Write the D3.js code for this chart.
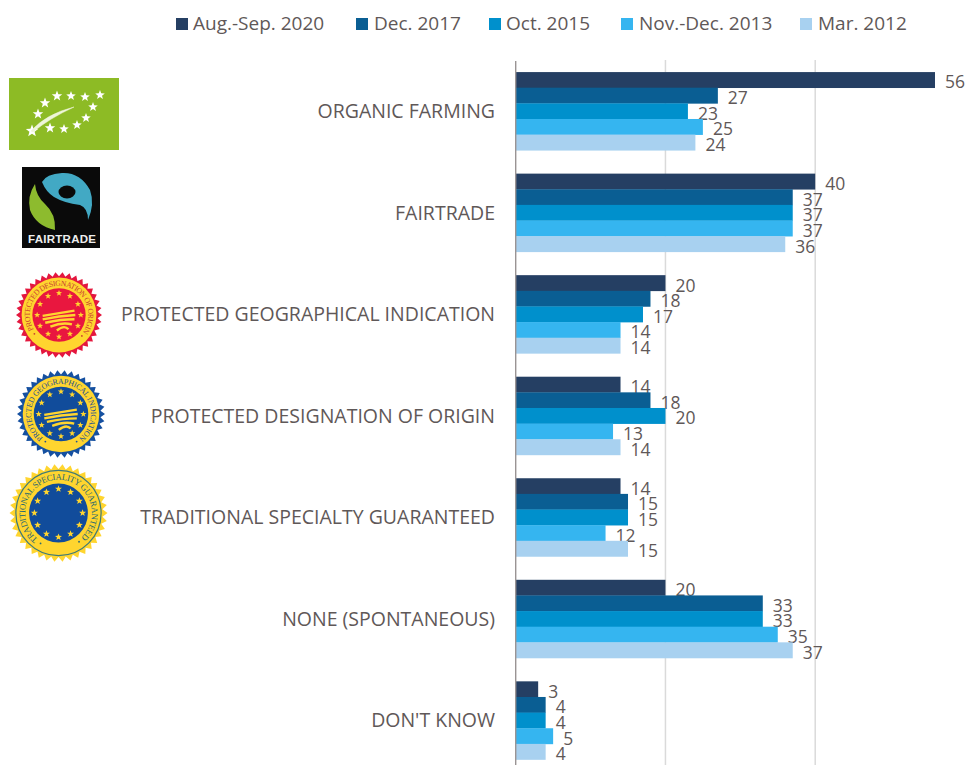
<!DOCTYPE html>
<html><head><meta charset="utf-8">
<script src="https://cdnjs.cloudflare.com/ajax/libs/d3/7.8.5/d3.min.js"></script>
<style>html,body{margin:0;padding:0;background:#fff}svg{display:block}svg{font-family:"Open Sans",sans-serif}</style>
</head><body><svg id="c" width="965" height="765"></svg>
<script>
const categories = ["ORGANIC FARMING","FAIRTRADE","PROTECTED GEOGRAPHICAL INDICATION","PROTECTED DESIGNATION OF ORIGIN","TRADITIONAL SPECIALTY GUARANTEED","NONE (SPONTANEOUS)","DON'T KNOW"];
const seriesNames = ["Aug.-Sep. 2020","Dec. 2017","Oct. 2015","Nov.-Dec. 2013","Mar. 2012"];
const aug2020 = [56,40,20,14,14,20,3];
const dec2017 = [27,37,18,18,15,33,4];
const oct2015 = [23,37,17,20,15,33,4];
const nov2013 = [25,37,14,13,12,35,5];
const mar2012 = [24,36,14,14,15,37,4];
const seriesValues = [aug2020,dec2017,oct2015,nov2013,mar2012];
const colors = ["#253F63","#0A5E93","#0090CC","#35B5F0","#A8D1F0"];
const xTicks = [0,20,40];
const textColor = "#5F5858";

const svg = d3.select("#c");
const x = d3.scaleLinear().domain([0,56]).range([515.7,935]);
const y = d3.scaleBand().domain(categories).range([60.4,771.2]).paddingInner(0.23).paddingOuter(0.115);
const inner = d3.scaleBand().domain(seriesNames).range([0,y.bandwidth()]);

// grid + axis
svg.append("g").selectAll("line").data(xTicks.slice(1)).join("line")
  .attr("x1",d=>x(d)).attr("x2",d=>x(d)).attr("y1",60).attr("y2",765)
  .attr("stroke","#DADADA").attr("stroke-width",1.5);

// bars
const groups = svg.append("g").selectAll("g").data(seriesNames).join("g");
groups.each(function(s,si){
  const g = d3.select(this);
  g.selectAll("rect").data(seriesValues[si]).join("rect")
    .attr("x",x(0)).attr("y",(d,i)=>y(categories[i])+inner(s))
    .attr("width",d=>x(d)-x(0)).attr("height",inner.bandwidth()+0.3)
    .attr("fill",colors[si]);
});
svg.append("line").attr("x1",x(0)).attr("x2",x(0)).attr("y1",61).attr("y2",765)
  .attr("stroke","#9A9494").attr("stroke-width",1.4);
groups.each(function(s,si){
  d3.select(this).selectAll("text").data(seriesValues[si]).join("text")
    .attr("x",d=>x(d)+10).attr("y",(d,i)=>y(categories[i])+inner(s)+inner.bandwidth()/2+8.6)
    .attr("font-size",17.5).attr("fill",textColor).text(d=>d);
});

// category labels
svg.append("g").selectAll("text").data(categories).join("text")
  .attr("x",495).attr("y",d=>y(d)+y.bandwidth()/2+7)
  .attr("text-anchor","end").attr("font-size",19.5).attr("fill",textColor).text(d=>d);

// legend
const legendX = [176,356,489,621,800];
const lg = svg.append("g").selectAll("g").data(seriesNames).join("g")
  .attr("transform",(d,i)=>`translate(${legendX[i]},0)`);
lg.append("rect").attr("y",18).attr("width",12).attr("height",12).attr("fill",(d,i)=>colors[i]);
lg.append("text").attr("x",(d,i)=>[17,18,17,18,18][i]).attr("y",30).attr("font-size",19).attr("fill",textColor).text(d=>d);

// ---- logos ----
function starPath(cx,cy,r){
  let p="";
  for(let i=0;i<10;i++){
    const a=-Math.PI/2+i*Math.PI/5, q=i%2?r*0.42:r;
    p+=(i?"L":"M")+(cx+q*Math.cos(a)).toFixed(2)+" "+(cy+q*Math.sin(a)).toFixed(2);
  }
  return p+"Z";
}
// organic leaf
const eu = svg.append("g");
eu.append("rect").attr("x",9).attr("y",78).attr("width",110).attr("height",72).attr("fill","#8DBB25");
[[32,131,6.5],[38,114,5.5],[45,103,5.5],[57,96,5.5],[71,96,5],[85,97,5],[100,95,5],[93,107,5],[86,118,5],[77,125,5],[64,129,5],[50,128,5.5]]
 .forEach(s=>eu.append("path").attr("d",starPath(...s)).attr("fill","#fff"));
eu.append("path").attr("d","M31 131Q46 114 74 107Q50 118 33 132Z").attr("fill","#eef5d8").attr("stroke","#eef5d8").attr("stroke-width",.5);

// fairtrade
const ft = svg.append("g");
ft.append("rect").attr("x",22).attr("y",167).attr("width",78).attr("height",81).attr("fill","#0a0a0a");
ft.append("path").attr("d","M42 182Q46 174 62 173Q80 172 90 190Q95 204 88 220Q88 208 80 205Q64 203 54 197Q46 192 42 182Z").attr("fill","#42A9C4");
ft.append("ellipse").attr("cx",67).attr("cy",192).attr("rx",8.5).attr("ry",6.5).attr("fill","#0a0a0a");
ft.append("path").attr("d","M35 184Q27 196 30 210Q36 226 55 230Q56 214 45 204Q36 196 35 184Z").attr("fill","#8DBB2E");
ft.append("text").attr("x",62).attr("y",243).attr("text-anchor","middle").attr("font-size",11.5).attr("font-weight",700)
  .style("font-family","Liberation Sans").attr("fill","#eee").attr("textLength",68).text("FAIRTRADE");

// seals
function seal(id,cx,cy,R,o){
  const g = svg.append("g");
  const n=o.teeth; let p="";
  for(let i=0;i<n*2;i++){
    const a=i*Math.PI/n, q=i%2?R*0.9:R;
    p+=(i?"L":"M")+(cx+q*Math.cos(a)).toFixed(2)+" "+(cy+q*Math.sin(a)).toFixed(2);
  }
  g.append("path").attr("d",p+"Z").attr("fill",o.teeth_c);
  g.append("circle").attr("cx",cx).attr("cy",cy).attr("r",R*0.87).attr("fill",o.ring).attr("stroke",o.ringStroke||"none").attr("stroke-width",1.2);
  g.append("circle").attr("cx",cx).attr("cy",cy).attr("r",R*o.innerR).attr("fill",o.inner);
  for(let i=0;i<12;i++){
    const a=i*Math.PI/6-Math.PI/2, rr=R*o.innerR*0.82;
    g.append("path").attr("d",starPath(cx+rr*Math.cos(a),cy+rr*Math.sin(a),R*0.075)).attr("fill",o.star);
  }
  if(o.field){
    [[-.38,.02,0,-.04,.36,-.1],[-.38,.1,0,.02,.38,.0],[-.32,.18,.05,.1,.36,.1],[-.2,.27,.08,.16,.3,.22],[-.05,.36,.12,.22,.22,.33]]
    .forEach(l=>g.append("path")
      .attr("d",`M${cx+l[0]*R} ${cy+l[1]*R}Q${cx+l[2]*R} ${cy+l[3]*R} ${cx+l[4]*R} ${cy+l[5]*R}`)
      .attr("fill","none").attr("stroke",o.star).attr("stroke-width",R*0.055));
  }
  const rt=R*0.68;
  const a0=o.arcStart, a1=o.arcEnd;
  g.append("defs").append("path").attr("id",id)
    .attr("d",`M${cx+rt*Math.cos(a0)} ${cy+rt*Math.sin(a0)}A${rt} ${rt} 0 1 1 ${cx+rt*Math.cos(a1)} ${cy+rt*Math.sin(a1)}`);
  const span = 2*Math.PI-((a0-a1+2*Math.PI)%(2*Math.PI));
  g.append("text").attr("font-size",R*0.18).style("font-family","Liberation Serif").attr("fill",o.txt)
    .append("textPath").attr("href","#"+id).attr("textLength",rt*span).text(o.label);
  [a0-.13,a1+.13].forEach(a=>g.append("circle").attr("cx",cx+rt*1.06*Math.cos(a)).attr("cy",cy+rt*1.06*Math.sin(a)).attr("r",.9).attr("fill",o.txt));
}
const s = Math.PI/180;
seal("pdo",59,315,43,{teeth:38,teeth_c:"#E4173E",ring:"#FFD52F",inner:"#E9173F",innerR:.62,star:"#FFD52F",field:true,txt:"#C8402F",label:"PROTECTED DESIGNATION OF ORIGIN",arcStart:150*s,arcEnd:35*s});
seal("pgi",61,414,44,{teeth:38,teeth_c:"#1550A0",ring:"#FFD52F",inner:"#114C9B",innerR:.62,star:"#FFD52F",field:true,txt:"#23508F",label:"PROTECTED GEOGRAPHICAL INDICATION",arcStart:127*s,arcEnd:53*s});
seal("tsg",58.5,513,49,{teeth:38,teeth_c:"#FFD52F",ring:"#FFD52F",ringStroke:"#3F7A78",inner:"#114C9B",innerR:.6,star:"#FFD52F",field:false,txt:"#2C6A70",label:"TRADITIONAL SPECIALITY GUARANTEED",arcStart:128*s,arcEnd:47*s});
</script></body></html>
